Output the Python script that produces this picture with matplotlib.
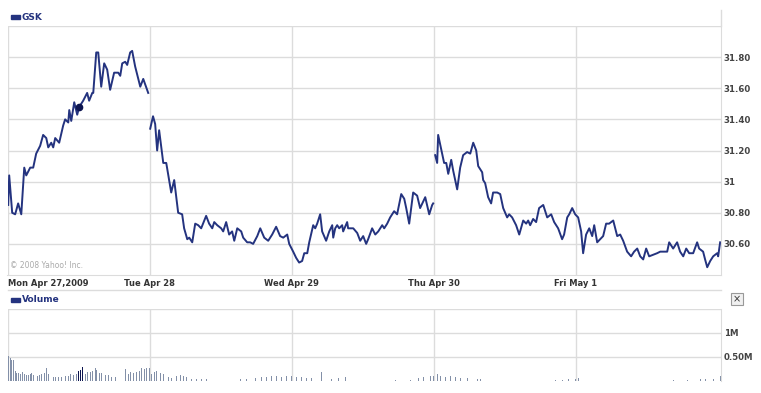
import numpy as np
import matplotlib
matplotlib.use("Agg")
import matplotlib.pyplot as plt
from matplotlib.patches import Rectangle
from matplotlib.lines import Line2D

# GSK intraday, Mon Apr 27 - Fri May 1 2009 (time in trading days from Mon open)
t_mon = [0.00, 0.007, 0.028, 0.049, 0.070, 0.092, 0.113, 0.127, 0.155, 0.176, 0.197, 0.225,
         0.246, 0.268, 0.282, 0.303, 0.317, 0.331, 0.359, 0.387, 0.401, 0.423, 0.430, 0.444,
         0.465, 0.486, 0.500, 0.528, 0.556, 0.570, 0.592, 0.599, 0.620, 0.634, 0.655, 0.676,
         0.697, 0.718, 0.746, 0.775, 0.789, 0.803, 0.824, 0.838, 0.859, 0.873, 0.894, 0.930,
         0.951, 0.986]
p_mon = [30.85, 31.04, 30.80, 30.79, 30.86, 30.79, 31.09, 31.04, 31.09, 31.09, 31.18, 31.23,
         31.30, 31.28, 31.22, 31.25, 31.22, 31.28, 31.25, 31.36, 31.40, 31.38, 31.46, 31.39,
         31.51, 31.43, 31.48, 31.52, 31.57, 31.52, 31.57, 31.57, 31.83, 31.83, 31.61, 31.76,
         31.72, 31.59, 31.70, 31.70, 31.68, 31.76, 31.77, 31.75, 31.83, 31.84, 31.74, 31.61,
         31.66, 31.57]

t_tue_wed = [1.000, 1.020, 1.035, 1.049, 1.063, 1.092, 1.113, 1.148, 1.169, 1.197, 1.225, 1.239,
             1.261, 1.275, 1.296, 1.317, 1.338, 1.359, 1.394, 1.415, 1.437, 1.451, 1.472, 1.500,
             1.514, 1.535, 1.556, 1.577, 1.592, 1.613, 1.641, 1.655, 1.683, 1.704, 1.725, 1.754,
             1.775, 1.803, 1.831, 1.859, 1.887, 1.915, 1.937, 1.965, 1.979,
             2.007, 2.028, 2.049, 2.070, 2.085, 2.106, 2.120, 2.148, 2.162, 2.176, 2.197, 2.211,
             2.239, 2.261, 2.282, 2.289, 2.303, 2.317, 2.331, 2.352, 2.359, 2.387, 2.394, 2.408,
             2.430, 2.458, 2.479, 2.500, 2.521, 2.535, 2.563, 2.585, 2.606, 2.634, 2.648, 2.669,
             2.690, 2.718, 2.739, 2.768, 2.789, 2.803, 2.824, 2.852, 2.880, 2.901, 2.937, 2.965,
             2.986, 2.993]
p_tue_wed = [31.34, 31.42, 31.37, 31.20, 31.33, 31.12, 31.12, 30.93, 31.01, 30.80, 30.79, 30.70,
             30.63, 30.64, 30.61, 30.73, 30.72, 30.70, 30.78, 30.73, 30.70, 30.74, 30.72, 30.70,
             30.68, 30.74, 30.66, 30.68, 30.62, 30.70, 30.68, 30.64, 30.61, 30.61, 30.60, 30.65,
             30.70, 30.64, 30.62, 30.66, 30.71, 30.65, 30.64, 30.66, 30.60,
             30.55, 30.51, 30.48, 30.49, 30.54, 30.54, 30.61, 30.72, 30.70, 30.73, 30.79, 30.68,
             30.62, 30.68, 30.72, 30.64, 30.70, 30.72, 30.70, 30.72, 30.68, 30.74, 30.70, 30.70,
             30.70, 30.67, 30.62, 30.65, 30.60, 30.63, 30.70, 30.66, 30.68, 30.72, 30.70, 30.73,
             30.77, 30.81, 30.79, 30.92, 30.89, 30.83, 30.73, 30.93, 30.91, 30.83, 30.90, 30.79,
             30.85, 30.86]

t_thu_fri = [3.007, 3.021, 3.028, 3.056, 3.070, 3.085, 3.099, 3.120, 3.134, 3.162, 3.183, 3.204,
             3.232, 3.254, 3.275, 3.296, 3.310, 3.338, 3.345, 3.359, 3.380, 3.401, 3.415, 3.444,
             3.465, 3.486, 3.514, 3.528, 3.549, 3.577, 3.599, 3.627, 3.648, 3.662, 3.676, 3.697,
             3.718, 3.739, 3.768, 3.796, 3.824, 3.845, 3.873, 3.901, 3.915, 3.937, 3.951, 3.972,
             3.993, 4.014,
             4.035, 4.049, 4.070, 4.092, 4.113, 4.127, 4.148, 4.169, 4.190, 4.211, 4.232, 4.261,
             4.275, 4.289, 4.310, 4.331, 4.359, 4.387, 4.408, 4.430, 4.451, 4.472, 4.493, 4.514,
             4.542, 4.570, 4.592, 4.613, 4.641, 4.655, 4.683, 4.711, 4.732, 4.754, 4.775, 4.796,
             4.824, 4.852, 4.866, 4.894, 4.908, 4.923, 4.944, 4.965, 4.993, 5.000, 5.014]
p_thu_fri = [31.17, 31.12, 31.30, 31.18, 31.12, 31.12, 31.05, 31.14, 31.07, 30.95, 31.09, 31.17,
             31.19, 31.18, 31.25, 31.20, 31.10, 31.06, 31.01, 30.99, 30.90, 30.86, 30.93, 30.93,
             30.92, 30.83, 30.77, 30.79, 30.77, 30.72, 30.66, 30.75, 30.73, 30.75, 30.72, 30.76,
             30.74, 30.83, 30.85, 30.77, 30.79, 30.74, 30.70, 30.63, 30.66, 30.77, 30.79, 30.83,
             30.79, 30.77,
             30.68, 30.54, 30.66, 30.70, 30.65, 30.72, 30.61, 30.63, 30.65, 30.73, 30.73, 30.75,
             30.70, 30.65, 30.66, 30.62, 30.55, 30.52, 30.55, 30.57, 30.52, 30.50, 30.57, 30.52,
             30.53, 30.54, 30.55, 30.55, 30.55, 30.61, 30.57, 30.61, 30.55, 30.52, 30.57, 30.54,
             30.54, 30.61, 30.57, 30.55, 30.50, 30.45, 30.49, 30.52, 30.54, 30.52, 30.61]

marker_t, marker_p = 0.500, 31.48

# volume, millions of shares
vol_t = [0.000, 0.014, 0.026, 0.037, 0.049, 0.061, 0.073, 0.085, 0.101, 0.113, 0.127, 0.143,
         0.155, 0.167, 0.178, 0.206, 0.221, 0.237, 0.254, 0.272, 0.284, 0.319, 0.336, 0.354,
         0.378, 0.401, 0.425, 0.441, 0.460, 0.479, 0.495, 0.507, 0.521, 0.542, 0.558, 0.577,
         0.594, 0.613, 0.625, 0.641, 0.660, 0.683, 0.706, 0.730, 0.754, 0.824, 0.847, 0.864,
         0.883, 0.906, 0.925, 0.942, 0.958, 0.977, 0.993, 1.012, 1.028, 1.047, 1.070, 1.094,
         1.129, 1.153, 1.188, 1.211, 1.235, 1.258, 1.294, 1.329, 1.364, 1.399, 1.634, 1.681,
         1.739, 1.786, 1.822, 1.857, 1.892, 1.927, 1.963, 1.998, 2.033, 2.068, 2.104, 2.139,
         2.209, 2.280, 2.326, 2.373, 2.725, 2.831, 2.887, 2.923, 2.972, 2.993, 3.021, 3.042,
         3.077, 3.113, 3.148, 3.183, 3.232, 3.303, 3.324, 3.852, 3.901, 3.944, 3.993, 4.014,
         4.683, 4.782, 4.873, 4.908, 4.965, 5.014]
vol_m = [0.53, 0.47, 0.44, 0.43, 0.21, 0.17, 0.17, 0.15, 0.19, 0.15, 0.13, 0.13,
         0.15, 0.17, 0.13, 0.11, 0.13, 0.15, 0.17, 0.28, 0.15, 0.09, 0.09, 0.09,
         0.09, 0.11, 0.11, 0.15, 0.13, 0.15, 0.21, 0.23, 0.30, 0.15, 0.19, 0.19,
         0.21, 0.28, 0.23, 0.17, 0.17, 0.13, 0.13, 0.09, 0.09, 0.26, 0.15, 0.19,
         0.17, 0.19, 0.21, 0.28, 0.26, 0.28, 0.28, 0.15, 0.19, 0.21, 0.17, 0.15,
         0.09, 0.06, 0.11, 0.13, 0.11, 0.09, 0.04, 0.04, 0.04, 0.04, 0.04, 0.04,
         0.06, 0.09, 0.09, 0.11, 0.11, 0.09, 0.11, 0.11, 0.09, 0.09, 0.06, 0.06,
         0.19, 0.04, 0.06, 0.09, 0.02, 0.02, 0.06, 0.09, 0.11, 0.11, 0.15, 0.11,
         0.09, 0.11, 0.09, 0.06, 0.06, 0.04, 0.04, 0.02, 0.02, 0.04, 0.04, 0.06,
         0.02, 0.02, 0.04, 0.04, 0.04, 0.11]
vol_highlight = (0.49, 0.53)

day_pos = [0, 1, 2, 3, 4]
day_labels = ["Mon Apr 27,2009", "Tue Apr 28", "Wed Apr 29", "Thu Apr 30", "Fri May 1"]
price_ticks = [30.60, 30.80, 31.00, 31.20, 31.40, 31.60, 31.80]
price_tick_labels = ["30.60", "30.80", "31", "31.20", "31.40", "31.60", "31.80"]
vol_ticks = [0.5, 1.0]
vol_tick_labels = ["0.50M", "1M"]

W, H = 761, 393
navy = "#24337f"
grid_c = "#dcdcdc"
label_c = "#444444"

def fx(px):
    return px / W

def fy(py):
    return 1 - py / H

fig = plt.figure(figsize=(W / 100, H / 100), dpi=100)
fig.patch.set_facecolor("white")

x0, x1 = 7.5, 721
ax = fig.add_axes([fx(x0), fy(275), fx(x1 - x0), (275 - 26) / H])
axv = fig.add_axes([fx(x0), fy(381), fx(x1 - x0), (381 - 309) / H])

for a in (ax, axv):
    a.set_xlim(-0.005, 5.02)
    a.set_xticks(day_pos)
    a.tick_params(axis="x", length=0, labelbottom=False)
    a.grid(True, color=grid_c, lw=1)
    a.set_axisbelow(True)
    for s in ("left", "top"):
        a.spines[s].set_visible(False)
    a.spines["right"].set_color(grid_c)
    a.spines["bottom"].set_color(grid_c)
    a.yaxis.tick_right()
    a.tick_params(axis="y", length=0, pad=2, labelsize=6.2, labelcolor=label_c)
axv.spines["bottom"].set_visible(False)

# price panel
ax.plot(t_mon, p_mon, color=navy, lw=1.4)
ax.plot(t_tue_wed, p_tue_wed, color=navy, lw=1.4)
ax.plot(t_thu_fri, p_thu_fri, color=navy, lw=1.4)
ax.plot([marker_t], [marker_p], "o", color="#0d1550", ms=4.5)
ax.set_ylim(30.40, 32.00)
ax.set_yticks(price_ticks + [32.00])
ax.set_yticklabels(price_tick_labels + [""], fontweight="bold")
ax.text(0.004, 0.02, "\u00a9 2008 Yahoo! Inc.", transform=ax.transAxes,
        fontsize=5.5, color="#aaaaaa", va="bottom", ha="left")

# volume panel
vt = np.array(vol_t)
cols = ["#0d1550" if vol_highlight[0] <= v <= vol_highlight[1] else "#8390a8" for v in vt]
axv.bar(vol_t, vol_m, width=0.007, color=cols, align="center")
axv.set_ylim(0, 1.5)
axv.set_yticks(vol_ticks + [1.5])
axv.set_yticklabels(vol_tick_labels + [""], fontweight="bold")

# date strip
for d, lab in zip(day_pos, day_labels):
    xpx = x0 + d * 142
    ha = "left" if d == 0 else "center"
    fig.text(fx(xpx), fy(284), lab, ha=ha, va="center",
             fontsize=6, fontweight="bold", color="#333333")
fig.add_artist(Line2D([fx(x0), fx(x1)], [fy(290), fy(290)], color=grid_c, lw=1))
fig.add_artist(Line2D([fx(x1), fx(x1)], [fy(10), fy(26)], color=grid_c, lw=1))

# legends
for py, name in [(17, "GSK"), (300, "Volume")]:
    fig.add_artist(Rectangle((fx(11), fy(py + 2)), fx(9), 4 / H, color=navy))
    fig.text(fx(22), fy(py), name, ha="left", va="center", fontsize=6.5,
             fontweight="bold", color=navy)

# close box
fig.add_artist(Rectangle((fx(731), fy(305)), fx(12), 12 / H, facecolor="#f0f0f0",
                         edgecolor="#999999", lw=0.8))
fig.text(fx(737), fy(299), "\u00d7", ha="center", va="center", fontsize=7, color="#333333")

fig.savefig("out.png", dpi=100)
